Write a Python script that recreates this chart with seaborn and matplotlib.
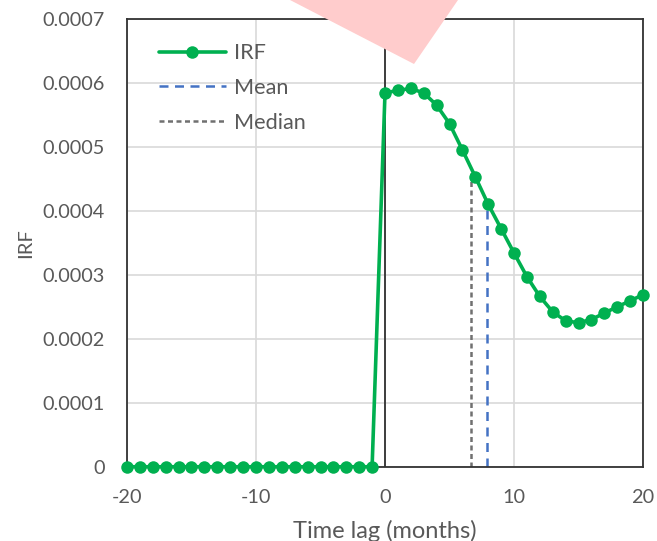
import numpy as np
import pandas as pd
import matplotlib
matplotlib.use("Agg")
import matplotlib.pyplot as plt
import seaborn as sns
from matplotlib.patches import Polygon

lags = list(range(-20, 21))
irf_values = [0.0] * 20 + [
    0.000584, 0.000588, 0.000591, 0.000584, 0.000565, 0.000536, 0.000495,
    0.000453, 0.000410, 0.000372, 0.000334, 0.000297, 0.000266, 0.000242,
    0.000228, 0.000225, 0.000230, 0.000240, 0.000250, 0.000259, 0.000269,
]
mean_lag = 7.9
median_lag = 6.67
x_ticks = [-20, -10, 0, 10, 20]
y_ticks = [0, 0.0001, 0.0002, 0.0003, 0.0004, 0.0005, 0.0006, 0.0007]
y_tick_labels = ["0", "0.0001", "0.0002", "0.0003", "0.0004", "0.0005", "0.0006", "0.0007"]

sns.set_theme(style="white")
plt.rcParams["font.family"] = ["Lato", "DejaVu Sans"]

df = pd.DataFrame({"lag": lags, "irf": irf_values})

fig = plt.figure(figsize=(6.57, 5.41), dpi=100)
ax = fig.add_axes([0.1933, 0.1373, 0.7854, 0.8281])

text_color = "#595959"
grid_color = "#d9d9d9"

for xv in x_ticks:
    ax.axvline(xv, color=grid_color, lw=1.2, zorder=0)
for yv in y_ticks:
    ax.axhline(yv, color=grid_color, lw=1.2, zorder=0)
ax.axvline(0, color="#222222", lw=1.2, zorder=1)

mean_h = np.interp(mean_lag, lags, irf_values)
median_h = np.interp(median_lag, lags, irf_values)
ax.plot([median_lag, median_lag], [0, median_h], color="#707070", lw=1.8,
        dashes=(2.0, 1.4), label="Median", zorder=2)
ax.plot([mean_lag, mean_lag], [0, mean_h], color="#4472c4", lw=1.8,
        dashes=(3.6, 2.6), label="Mean", zorder=2)

sns.lineplot(data=df, x="lag", y="irf", ax=ax, color="#00b050", lw=2.6,
             marker="o", markersize=9, markeredgewidth=0, label="IRF", zorder=3,
             clip_on=False)

ax.set_xlim(-20, 20)
ax.set_ylim(0, 0.0007)
ax.set_xticks(x_ticks)
ax.set_xticklabels([str(v) for v in x_ticks])
ax.set_yticks(y_ticks)
ax.set_yticklabels(y_tick_labels)
ax.tick_params(axis="both", colors=text_color, labelsize=14.3, length=0)
ax.tick_params(axis="x", pad=16)
ax.tick_params(axis="y", pad=16)
ax.set_xlabel("Time lag (months)", color=text_color, fontsize=17, labelpad=10)
ax.set_ylabel("IRF", color=text_color, fontsize=14.5, labelpad=6)
for s in ax.spines.values():
    s.set_visible(True)
    s.set_color("#333333")
    s.set_linewidth(1.3)

handles, labels = ax.get_legend_handles_labels()
order = [labels.index(n) for n in ["IRF", "Mean", "Median"]]
leg = ax.legend([handles[i] for i in order], [labels[i] for i in order],
                loc="upper left", bbox_to_anchor=(0.024, 0.989), frameon=False,
                fontsize=15.6, handlelength=3.1, handletextpad=0.37,
                labelspacing=0.68)
for t in leg.get_texts():
    t.set_color(text_color)

W, H = 657, 541
tri = [(290 / W, 1.0), (458 / W, 1.0), (414 / W, 1 - 64 / H)]
fig.patches.append(Polygon(tri, closed=True, transform=fig.transFigure,
                           facecolor="#ffcccc", edgecolor="none", zorder=10))

fig.savefig("out.png", dpi=100)
